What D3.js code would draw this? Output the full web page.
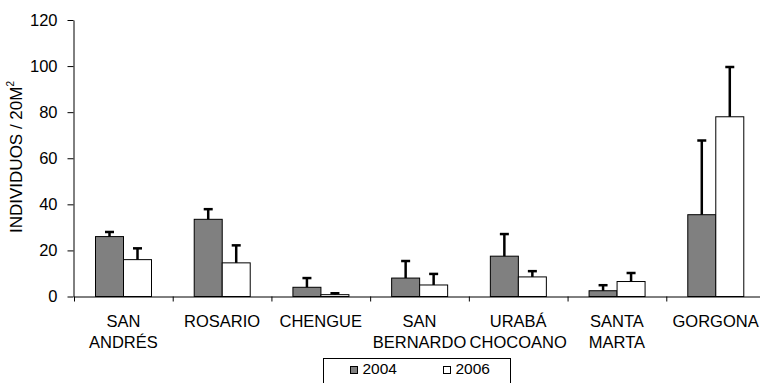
<!DOCTYPE html>
<html>
<head>
<meta charset="utf-8">
<script src="https://cdn.jsdelivr.net/npm/d3@7"></script>
<style>
  body { margin: 0; background: #fff; }
  svg { display: block; font-family: Arial, "Liberation Sans", sans-serif; }
</style>
</head>
<body>
<div id="viz"></div>
<script>
// data
const sites = ["SAN ANDRÉS", "ROSARIO", "CHENGUE", "SAN BERNARDO", "URABÁ CHOCOANO", "SANTA MARTA", "GORGONA"];
const siteLines = [["SAN", "ANDRÉS"], ["ROSARIO"], ["CHENGUE"], ["SAN", "BERNARDO"], ["URABÁ", "CHOCOANO"], ["SANTA", "MARTA"], ["GORGONA"]];
const years = ["2004", "2006"];
const yearColors = ["#808080", "#ffffff"];
const values2004 = [26, 33.5, 4, 8, 17.5, 2.5, 35.5];
const errors2004 = [2, 4.4, 4, 7.4, 9.6, 2.4, 32.2];
const values2006 = [16, 14.6, 0.8, 5, 8.5, 6.5, 78];
const errors2006 = [4.9, 7.6, 0.6, 4.8, 2.5, 3.7, 21.6];
const yTicks = [0, 20, 40, 60, 80, 100, 120];

const width = 760, height = 383;
const margin = { left: 74, right: -5, top: 20, bottom: 86 };

const svg = d3.select("#viz").append("svg")
    .attr("width", width)
    .attr("height", height);

const x = d3.scaleBand()
    .domain(sites)
    .range([margin.left, width - margin.right])
    .padding(0);

// boundaries between categories, for the tick marks
const xEdge = d3.scaleLinear()
    .domain([0, sites.length])
    .range([margin.left, width - margin.right]);

const xYear = d3.scaleBand()
    .domain(years)
    .range([0, x.bandwidth()])
    .paddingInner(0)
    .paddingOuter(0.75);

const y = d3.scaleLinear()
    .domain([0, 120])
    .range([height - margin.bottom - 0.5, margin.top]);

const rows = sites.map((s, i) => ({
    site: s,
    lines: siteLines[i],
    bars: [
        { year: years[0], value: values2004[i], err: errors2004[i], color: yearColors[0] },
        { year: years[1], value: values2006[i], err: errors2006[i], color: yearColors[1] }
    ]
}));

// y axis
const yAxis = svg.append("g")
    .attr("transform", `translate(${margin.left - 0.5},0)`)
    .call(d3.axisLeft(y).tickValues(yTicks).tickSize(6).tickSizeOuter(0).tickPadding(10));
yAxis.selectAll("text")
    .attr("fill", "#000")
    .style("font-size", "16.5px");
yAxis.selectAll("line, path").attr("stroke", "#000");

// y title
const yTitle = svg.append("text")
    .attr("transform", `translate(22,157) rotate(-90)`)
    .attr("text-anchor", "middle")
    .style("font-size", "17px")
    .attr("fill", "#000");
yTitle.append("tspan").text("INDIVIDUOS / 20M");
yTitle.append("tspan").text("2").style("font-size", "10px").attr("dy", "-8");

// bars
const gSite = svg.selectAll(".site")
    .data(rows)
    .join("g")
        .attr("class", "site")
        .attr("transform", d => `translate(${x(d.site)},0)`);

const gBar = gSite.selectAll(".bar")
    .data(d => d.bars)
    .join("g")
        .attr("class", "bar");

gBar.append("rect")
    .attr("x", d => Math.round(xYear(d.year)) + 0.5)
    .attr("y", d => y(d.value))
    .attr("width", Math.round(xYear.bandwidth()))
    .attr("height", d => y(0) - y(d.value))
    .attr("fill", d => d.color)
    .attr("stroke", "#000")
    .attr("stroke-width", 1);

// error bars (upper only)
gBar.append("line")
    .attr("x1", d => Math.round(xYear(d.year) + xYear.bandwidth() / 2) + 0.5)
    .attr("x2", d => Math.round(xYear(d.year) + xYear.bandwidth() / 2) + 0.5)
    .attr("y1", d => y(d.value))
    .attr("y2", d => y(d.value + d.err))
    .attr("stroke", "#000")
    .attr("stroke-width", 2.5);

gBar.append("line")
    .attr("x1", d => Math.round(xYear(d.year) + xYear.bandwidth() / 2) - 4)
    .attr("x2", d => Math.round(xYear(d.year) + xYear.bandwidth() / 2) + 5)
    .attr("y1", d => y(d.value + d.err))
    .attr("y2", d => y(d.value + d.err))
    .attr("stroke", "#000")
    .attr("stroke-width", 2.5);

// x axis with ticks between categories
const xAxis = svg.append("g")
    .attr("transform", `translate(0,${y(0)})`)
    .call(d3.axisBottom(xEdge).tickValues(d3.range(sites.length + 1)).tickFormat("").tickSize(5).tickSizeOuter(0));
xAxis.selectAll("line, path").attr("stroke", "#000");

// category labels
gSite.selectAll(".site-label")
    .data(d => d.lines)
    .join("text")
        .attr("class", "site-label")
        .attr("x", x.bandwidth() / 2)
        .attr("y", (d, i) => 327 + i * 21)
        .attr("text-anchor", "middle")
        .style("font-size", "16.5px")
        .attr("fill", "#000")
        .text(d => d);

// legend
const legend = svg.append("g").attr("transform", "translate(323.5,358.5)");
legend.append("rect")
    .attr("width", 187)
    .attr("height", 40)
    .attr("fill", "#fff")
    .attr("stroke", "#000");

const legendItem = legend.selectAll(".legend-item")
    .data(years)
    .join("g")
        .attr("class", "legend-item")
        .attr("transform", (d, i) => `translate(${27 + i * 93},8)`);

legendItem.append("rect")
    .attr("width", 7)
    .attr("height", 7)
    .attr("fill", (d, i) => yearColors[i])
    .attr("stroke", "#000");

legendItem.append("text")
    .attr("x", 12)
    .attr("y", 7.5)
    .style("font-size", "15.5px")
    .attr("fill", "#000")
    .text(d => d);
</script>
</body>
</html>
